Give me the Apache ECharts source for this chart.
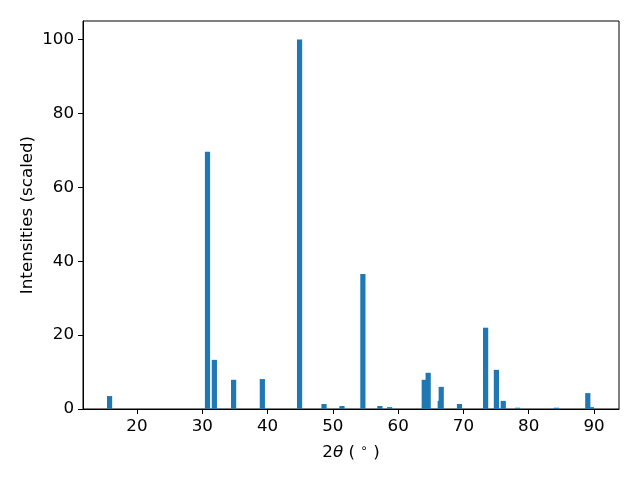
<!DOCTYPE html>
<html>
<head>
<meta charset="utf-8">
<script src="https://cdn.jsdelivr.net/npm/echarts@6/dist/echarts.min.js"></script>
<style>html,body{margin:0;padding:0;background:#fff}#c{width:640px;height:480px}</style>
</head>
<body>
<div id="c"></div>
<script>
const twoTheta = [15.8, 30.8, 31.85, 34.8, 39.2, 44.9, 48.65, 51.4, 54.6, 57.2, 58.7, 64.0, 64.6, 66.45, 66.6, 69.4, 73.4, 75.05, 76.1, 78.3, 84.25, 89.05, 89.6];
const intensity = [3.5, 69.6, 13.3, 7.9, 8.1, 100, 1.35, 0.8, 36.5, 0.8, 0.5, 7.9, 9.8, 2.2, 6.0, 1.35, 22.0, 10.6, 2.2, 0.35, 0.35, 4.3, 0.5];
const xTicks = [20, 30, 40, 50, 60, 70, 80, 90];
const yTicks = [0, 20, 40, 60, 80, 100];

const data = twoTheta.map((x, i) => [x, intensity[i]]).sort((a, b) => a[1] - b[1]);
const font = 'DejaVu Sans';
const fs = 16.7;
const chart = echarts.init(document.getElementById('c'), null, {renderer: 'canvas'});
chart.setOption({
  animation: false,
  backgroundColor: '#fff',
  grid: {left: 83, right: 21, top: 21, bottom: 71, show: true, borderColor: '#000', borderWidth: 1, backgroundColor: 'transparent'},
  xAxis: {
    type: 'value', min: 11.73, max: 93.83,
    name: '2{i|θ} ( {s|∘} )', nameLocation: 'middle', nameGap: 34,
    nameTextStyle: {fontFamily: font, fontSize: fs, color: '#000',
      rich: {i: {fontFamily: font, fontSize: fs, fontStyle: 'italic', color: '#000'},
             s: {fontFamily: font, fontSize: 12, color: '#000', verticalAlign: 'top', padding: [0, 0, 7, 0]}}},
    axisLine: {show: true, lineStyle: {color: '#000', width: 1}},
    axisTick: {show: true, inside: false, length: 5, lineStyle: {color: '#000'}, customValues: xTicks},
    axisLabel: {show: true, customValues: xTicks, fontFamily: font, fontSize: fs, color: '#000', margin: 9},
    splitLine: {show: false}
  },
  yAxis: {
    type: 'value', min: 0, max: 105,
    name: 'Intensities (scaled)', nameLocation: 'middle', nameGap: 47, nameMoveOverlap: false,
    nameTextStyle: {fontFamily: font, fontSize: fs, color: '#000'},
    axisLine: {show: true, lineStyle: {color: '#000', width: 1}},
    axisTick: {show: true, inside: false, length: 5, lineStyle: {color: '#000'}, customValues: yTicks},
    axisLabel: {show: true, customValues: yTicks, fontFamily: font, fontSize: fs, color: '#000', margin: 9},
    splitLine: {show: false}
  },
  series: [{
    type: 'bar', data: data, barWidth: 5.2,
    itemStyle: {color: '#1f77b4'}
  }]
});
</script>
</body>
</html>
